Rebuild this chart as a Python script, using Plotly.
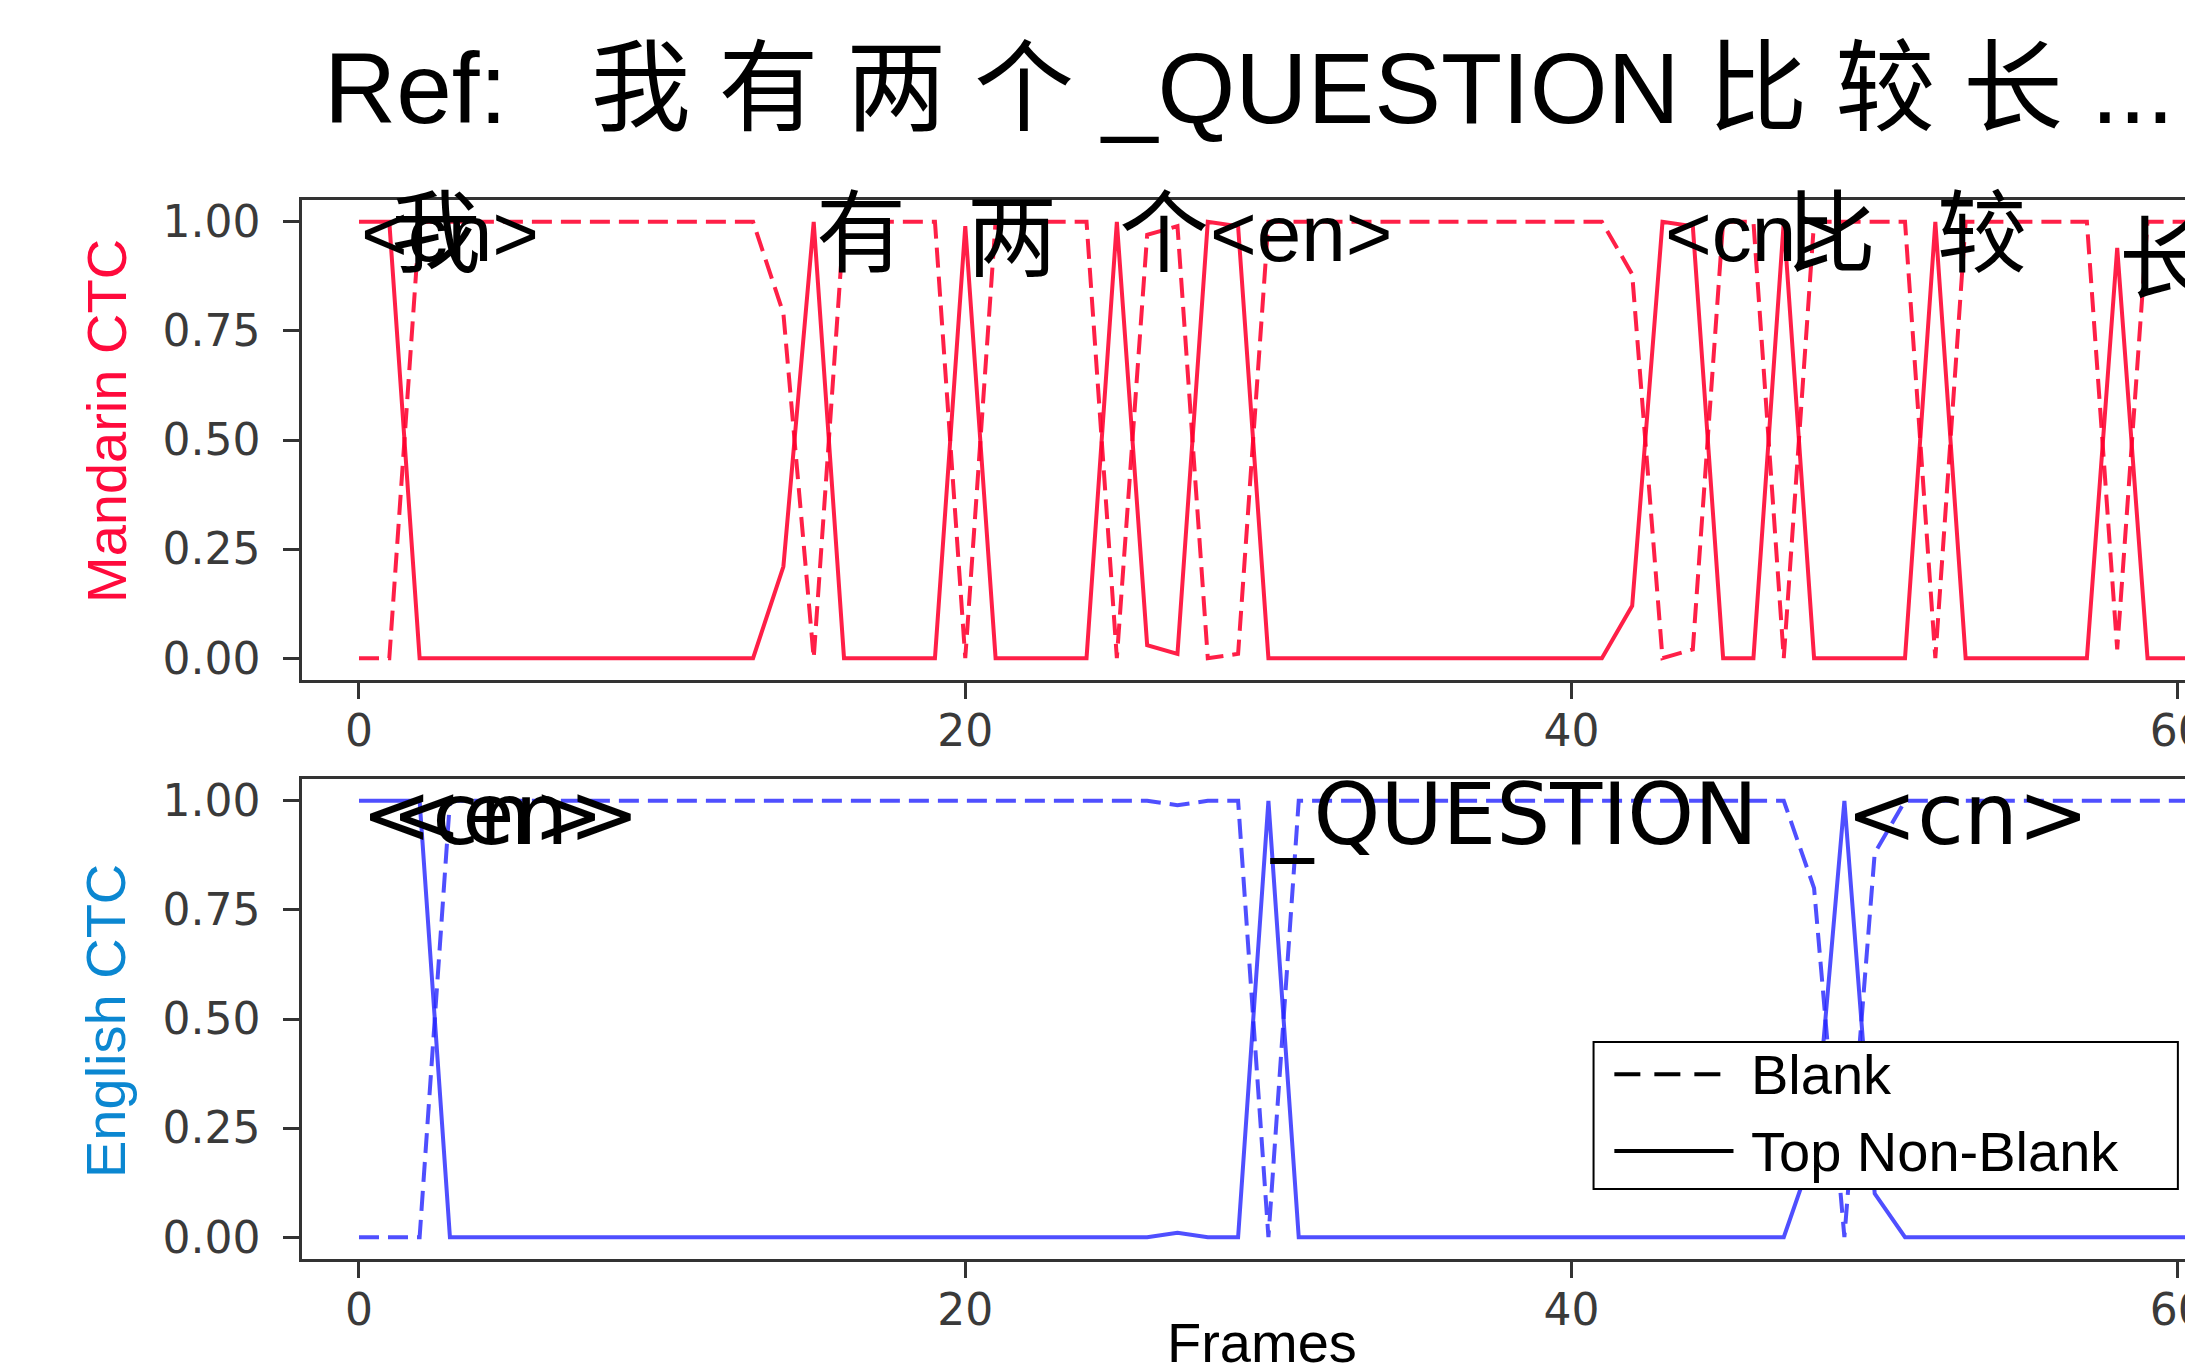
import html
import plotly.graph_objects as go

# ---------------- data ----------------
frames = list(range(62))

mandarin_blank = [
    0.0, 0.0, 1.0, 1.0, 1.0, 1.0, 1.0, 1.0, 1.0, 1.0,
    1.0, 1.0, 1.0, 1.0, 0.79, 0.0, 1.0, 1.0, 1.0, 1.0,
    0.0, 1.0, 1.0, 1.0, 1.0, 0.0, 0.97, 0.99, 0.0, 0.01,
    1.0, 1.0, 1.0, 1.0, 1.0, 1.0, 1.0, 1.0, 1.0, 1.0,
    1.0, 1.0, 0.88, 0.0, 0.02, 1.0, 1.0, 0.0, 1.0, 1.0,
    1.0, 1.0, 0.0, 1.0, 1.0, 1.0, 1.0, 1.0, 0.02, 1.0,
    1.0, 1.0]

mandarin_top = [
    1.0, 1.0, 0.0, 0.0, 0.0, 0.0, 0.0, 0.0, 0.0, 0.0,
    0.0, 0.0, 0.0, 0.0, 0.21, 1.0, 0.0, 0.0, 0.0, 0.0,
    0.99, 0.0, 0.0, 0.0, 0.0, 1.0, 0.03, 0.01, 1.0, 0.99,
    0.0, 0.0, 0.0, 0.0, 0.0, 0.0, 0.0, 0.0, 0.0, 0.0,
    0.0, 0.0, 0.12, 1.0, 0.99, 0.0, 0.0, 1.0, 0.0, 0.0,
    0.0, 0.0, 1.0, 0.0, 0.0, 0.0, 0.0, 0.0, 0.94, 0.0,
    0.0, 0.0]

english_blank = [
    0.0, 0.0, 0.0, 1.0, 1.0, 1.0, 1.0, 1.0, 1.0, 1.0,
    1.0, 1.0, 1.0, 1.0, 1.0, 1.0, 1.0, 1.0, 1.0, 1.0,
    1.0, 1.0, 1.0, 1.0, 1.0, 1.0, 1.0, 0.99, 1.0, 1.0,
    0.0, 1.0, 1.0, 1.0, 1.0, 1.0, 1.0, 1.0, 1.0, 1.0,
    1.0, 1.0, 1.0, 1.0, 1.0, 1.0, 1.0, 1.0, 0.8, 0.0,
    0.88, 1.0, 1.0, 1.0, 1.0, 1.0, 1.0, 1.0, 1.0, 1.0,
    1.0, 1.0]

english_top = [
    1.0, 1.0, 1.0, 0.0, 0.0, 0.0, 0.0, 0.0, 0.0, 0.0,
    0.0, 0.0, 0.0, 0.0, 0.0, 0.0, 0.0, 0.0, 0.0, 0.0,
    0.0, 0.0, 0.0, 0.0, 0.0, 0.0, 0.0, 0.01, 0.0, 0.0,
    1.0, 0.0, 0.0, 0.0, 0.0, 0.0, 0.0, 0.0, 0.0, 0.0,
    0.0, 0.0, 0.0, 0.0, 0.0, 0.0, 0.0, 0.0, 0.2, 1.0,
    0.1, 0.0, 0.0, 0.0, 0.0, 0.0, 0.0, 0.0, 0.0, 0.0,
    0.0, 0.0]

mandarin_token_frames = [0, 1, 15, 20, 25, 28, 43, 47, 52, 58]
mandarin_tokens = ["<cn>", "我", "有", "两", "个", "<en>", "<cn>", "比", "较", "长"]

english_token_frames = [0, 1, 30, 49]
english_tokens = ["<cn>", "<en>", "_QUESTION", "<cn>"]

y_ticks = [0.0, 0.25, 0.5, 0.75, 1.0]
x_ticks = [0, 20, 40, 60]

title_text = "Ref:\u00a0\u00a0 我 有 两 个 _QUESTION 比 较 长 ..."
panel_titles = ["Mandarin CTC", "English CTC"]
x_title = "Frames"
legend_labels = ["Blank", "Top Non-Blank"]

# ---------------- style ----------------
OFF = 8                      # default page (body) margin of the html page
W, H = 2193 - OFF, 1365 - OFF
PLOT_L = 302                 # page x of the left spine
PLOT_W = 2193 - PLOT_L
RED = "rgba(255,0,45,0.88)"
BLUE = "rgba(35,35,255,0.8)"
RED_LABEL = "#ff0a3c"
BLUE_LABEL = "#0b87d1"
DASH = "20px,9px"
LW = 4
SANS = "Liberation Sans, Arial, Noto Sans CJK SC, sans-serif"
DEJAVU = "DejaVu Sans, Noto Sans CJK SC, sans-serif"
TICKFONT = dict(family="DejaVu Sans", size=44, color="#3a3a3a")
SPINE = "#333333"


def py(p):
    """page pixel row -> paper fraction"""
    return 1 - (p - OFF) / H


def px(p):
    """page pixel column -> paper fraction"""
    return (p - PLOT_L) / PLOT_W


def is_cjk(s):
    return any(ord(c) > 0x2E80 for c in s)


fig = go.Figure()


def add_panel(xa, ya, blank, top, color):
    fig.add_trace(go.Scatter(x=frames, y=blank, mode="lines", xaxis=xa, yaxis=ya,
                             line=dict(color=color, width=LW, dash=DASH),
                             name="Blank", showlegend=False))
    fig.add_trace(go.Scatter(x=frames, y=top, mode="lines", xaxis=xa, yaxis=ya,
                             line=dict(color=color, width=LW),
                             name="Top Non-Blank", showlegend=False))


add_panel("x", "y", mandarin_blank, mandarin_top, RED)
add_panel("x2", "y2", english_blank, english_top, BLUE)

annotations = []
for f, tok in zip(mandarin_token_frames, mandarin_tokens):
    annotations.append(dict(x=f, y=mandarin_top[f], xref="x", yref="y",
                            text=html.escape(tok), showarrow=False,
                            xanchor="left", yanchor="middle", yshift=-12,
                            font=dict(family=SANS, size=90 if is_cjk(tok) else 80,
                                      color="black")))
for f, tok in zip(english_token_frames, english_tokens):
    annotations.append(dict(x=f, y=english_top[f], xref="x2", yref="y2",
                            text=html.escape(tok), showarrow=False,
                            xanchor="left", yanchor="middle", yshift=-14,
                            font=dict(family=DEJAVU, size=85, color="black")))

# figure title (left part of a wider, cropped title)
annotations.append(dict(x=px(322), y=py(88), xref="paper", yref="paper",
                        text=title_text, showarrow=False, xanchor="left",
                        yanchor="middle",
                        font=dict(family=SANS, size=100, color="black")))

# axis titles
annotations.append(dict(x=px(106), y=py(421), xref="paper", yref="paper",
                        text=panel_titles[0], showarrow=False, textangle=-90,
                        xanchor="center", yanchor="middle",
                        font=dict(family=SANS, size=56, color=RED_LABEL)))
annotations.append(dict(x=px(106), y=py(1021), xref="paper", yref="paper",
                        text=panel_titles[1], showarrow=False, textangle=-90,
                        xanchor="center", yanchor="middle",
                        font=dict(family=SANS, size=56, color=BLUE_LABEL)))
annotations.append(dict(x=px(1262), y=py(1309), xref="paper", yref="paper",
                        text=x_title, showarrow=False,
                        xanchor="center", yanchor="top",
                        font=dict(family=SANS, size=56, color="black")))

# legend box inside the lower panel
shapes = [dict(type="rect", xref="x2 domain", yref="y2 domain",
               x0=0.683, x1=0.992, y0=0.146, y1=0.452,
               line=dict(color="black", width=2), fillcolor="white", layer="above")]
legend_rows_y = [0.385, 0.225]
legend_dash = ["dash", "solid"]
for lab, yy, dsh in zip(legend_labels, legend_rows_y, legend_dash):
    shapes.append(dict(type="line", xref="x2 domain", yref="y2 domain",
                       x0=0.694, x1=0.757, y0=yy, y1=yy, layer="above",
                       line=dict(color="black", width=4,
                                 dash="26px,14px" if dsh == "dash" else "solid")))
    annotations.append(dict(x=0.765, y=yy, xref="x2 domain", yref="y2 domain",
                            text=lab, showarrow=False, xanchor="left",
                            yanchor="middle",
                            font=dict(family=SANS, size=56, color="black")))

axis_common = dict(showline=True, linecolor=SPINE, linewidth=2.5,
                   ticks="outside", ticklen=16, tickwidth=2.5, tickcolor=SPINE,
                   tickfont=TICKFONT, showgrid=False, zeroline=False,
                   automargin=False, ticklabeloverflow="allow")

x_range = [-1.88, 60.5]
y_range = [-0.05, 1.05]
top_dom = [py(680), py(200)]
bot_dom = [py(1259), py(779)]

fig.update_layout(
    width=W, height=H,
    margin=dict(l=PLOT_L - OFF, r=0, t=0, b=0),
    paper_bgcolor="white", plot_bgcolor="white",
    showlegend=False,
    xaxis=dict(domain=[0, 1], range=x_range, tickvals=x_ticks, anchor="y",
               mirror=True, ticklabelstandoff=-6, **axis_common),
    yaxis=dict(domain=top_dom, range=y_range, tickvals=y_ticks, tickformat=".2f",
               anchor="x", mirror=False, ticklabelstandoff=14, **axis_common),
    xaxis2=dict(domain=[0, 1], range=x_range, tickvals=x_ticks, anchor="y2",
                mirror=True, ticklabelstandoff=-6, **axis_common),
    yaxis2=dict(domain=bot_dom, range=y_range, tickvals=y_ticks, tickformat=".2f",
                anchor="x2", mirror=False, ticklabelstandoff=14, **axis_common),
    annotations=annotations,
    shapes=shapes,
)

fig.write_html("out.html")
